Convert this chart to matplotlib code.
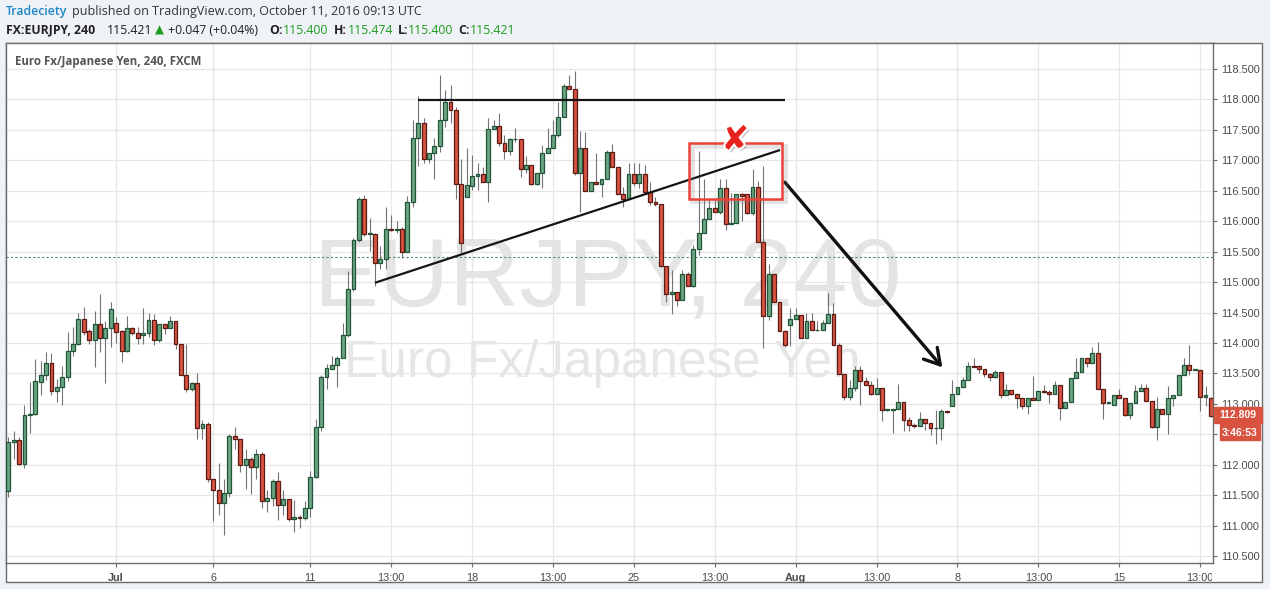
import matplotlib
matplotlib.use('Agg')
import matplotlib.pyplot as plt
import matplotlib.patheffects as pe
from matplotlib.patches import Rectangle
from matplotlib.transforms import Bbox

plt.rcParams['font.family'] = ['Liberation Sans', 'DejaVu Sans']

W, H = 1270, 589

# EURJPY 4h candles, left to right
opens = [111.57, 112.38, 112.40, 112.02, 112.82, 112.83, 113.36, 113.48, 113.68, 113.21,
         113.28, 113.44, 113.87, 113.99, 114.40, 114.19, 114.05, 114.32, 114.09, 114.25,
         114.33, 114.19, 113.87, 114.25, 114.16, 114.14, 114.16, 114.38, 114.05, 114.32,
         114.25, 114.36, 113.99, 113.48, 113.25, 113.35, 112.60, 112.67, 111.76, 111.59,
         111.37, 111.54, 112.48, 112.43, 111.99, 112.10, 111.96, 112.18, 111.40, 111.46,
         111.73, 111.34, 111.44, 111.11, 111.14, 111.12, 111.29, 111.80, 112.62, 113.44,
         113.57, 113.64, 113.75, 114.14, 114.88, 115.69, 116.36, 115.79, 115.79, 115.31,
         115.38, 115.88, 115.85, 115.87, 115.50, 116.31, 117.36, 117.62, 117.03, 117.12,
         117.24, 117.67, 117.95, 117.83, 116.61, 116.39, 116.58, 116.74, 116.78, 116.64,
         117.51, 117.56, 117.28, 117.16, 117.35, 117.35, 116.85, 116.93, 116.61, 116.80,
         117.12, 117.20, 117.42, 117.71, 118.22, 118.17, 116.80, 117.20, 116.50, 116.65,
         116.61, 116.70, 117.13, 116.89, 116.44, 116.37, 116.78, 116.62, 116.78, 116.48,
         116.31, 116.29, 115.27, 114.80, 114.83, 114.70, 115.13, 114.94, 115.55, 115.81,
         116.03, 116.21, 116.15, 116.54, 115.95, 115.97, 116.44, 116.44, 116.13, 116.57,
         115.66, 114.45, 115.14, 114.68, 114.19, 114.29, 114.39, 114.46, 114.09, 114.37,
         114.21, 114.22, 114.33, 114.47, 113.97, 113.49, 113.11, 113.26, 113.55, 113.37,
         113.31, 113.17, 113.26, 112.90, 112.90, 112.91, 113.03, 112.73, 112.66, 112.64,
         112.76, 112.68, 112.60, 112.61, 112.88, 112.97, 113.16, 113.27, 113.39, 113.62,
         113.62, 113.57, 113.49, 113.44, 113.52, 113.14, 113.23, 113.17, 113.10, 112.96,
         113.10, 113.06, 113.21, 113.20, 113.16, 113.31, 112.94, 113.03, 113.43, 113.52,
         113.75, 113.67, 113.83, 113.24, 113.01, 112.98, 113.14, 113.10, 112.82, 113.01,
         113.21, 113.26, 113.05, 112.62, 112.91, 112.84, 113.10, 113.15, 113.48, 113.64,
         113.56, 113.56, 113.11, 113.10]
highs = [112.46, 112.56, 112.46, 112.98, 113.36, 113.73, 113.70, 113.86, 113.84, 113.41,
         113.62, 114.18, 114.27, 114.50, 114.59, 114.23, 114.52, 114.80, 114.37, 114.68,
         114.43, 114.22, 114.44, 114.26, 114.26, 114.57, 114.50, 114.48, 114.32, 114.32,
         114.44, 114.36, 113.99, 113.98, 113.36, 113.50, 112.73, 112.70, 111.76, 112.03,
         111.77, 112.51, 112.62, 112.43, 112.26, 112.13, 112.26, 112.21, 111.59, 111.77,
         111.89, 111.58, 111.44, 111.43, 111.17, 111.41, 111.90, 112.76, 113.48, 113.66,
         113.79, 113.78, 114.33, 115.19, 115.72, 116.40, 116.43, 116.05, 115.80, 115.59,
         116.24, 116.10, 116.00, 115.91, 116.41, 117.67, 118.05, 117.69, 117.12, 117.36,
         118.40, 118.16, 118.24, 117.88, 117.03, 117.20, 117.09, 116.95, 116.89, 117.69,
         117.67, 117.78, 117.42, 117.36, 117.53, 117.35, 117.07, 116.93, 116.80, 117.25,
         117.53, 117.66, 117.95, 118.26, 118.40, 118.47, 117.49, 117.47, 116.65, 117.12,
         116.70, 117.17, 117.27, 116.89, 116.57, 116.96, 116.96, 116.96, 116.92, 116.65,
         116.40, 116.29, 115.27, 115.20, 114.83, 115.20, 115.17, 115.61, 117.16, 116.70,
         116.35, 116.35, 116.70, 116.70, 116.47, 116.44, 116.47, 116.44, 116.85, 116.66,
         116.90, 115.30, 115.14, 114.68, 114.21, 114.57, 114.57, 114.46, 114.50, 114.49,
         114.37, 114.38, 114.82, 114.65, 114.00, 113.49, 113.40, 113.62, 113.62, 113.45,
         113.38, 113.42, 113.26, 112.92, 112.92, 113.32, 113.03, 112.79, 112.68, 112.86,
         112.76, 112.68, 112.90, 112.92, 112.88, 113.39, 113.27, 113.45, 113.69, 113.75,
         113.64, 113.57, 113.51, 113.56, 113.52, 113.32, 113.23, 113.17, 113.10, 113.10,
         113.46, 113.21, 113.31, 113.23, 113.37, 113.31, 113.03, 113.43, 113.76, 113.75,
         113.75, 113.94, 114.02, 113.24, 113.04, 113.14, 113.25, 113.10, 113.01, 113.31,
         113.32, 113.32, 113.05, 113.11, 112.91, 113.29, 113.15, 113.48, 113.76, 113.97,
         113.58, 113.56, 113.30, 113.12]
lows = [111.48, 112.10, 111.99, 111.95, 112.52, 112.82, 113.14, 113.39, 113.14, 113.04,
        112.98, 113.37, 113.78, 113.96, 114.13, 113.98, 113.60, 113.85, 113.34, 113.93,
        114.00, 113.69, 113.85, 114.14, 113.99, 113.99, 114.10, 113.97, 114.01, 114.15,
        114.25, 113.91, 113.47, 113.19, 113.22, 112.42, 112.42, 111.72, 111.07, 111.17,
        110.85, 111.47, 112.26, 111.89, 111.61, 111.52, 111.77, 111.29, 111.22, 111.32,
        111.09, 111.17, 111.07, 110.89, 110.97, 111.09, 111.14, 111.78, 112.56, 113.25,
        113.57, 113.28, 113.75, 114.10, 114.85, 115.66, 115.75, 115.51, 114.94, 115.21,
        115.21, 115.84, 115.80, 115.39, 115.50, 116.24, 116.91, 116.95, 116.95, 116.69,
        117.13, 117.55, 117.61, 116.36, 115.47, 116.39, 116.51, 116.51, 116.64, 116.32,
        117.51, 117.24, 117.02, 117.09, 117.30, 116.72, 116.79, 116.60, 116.60, 116.55,
        117.12, 117.20, 117.39, 117.71, 118.17, 116.76, 116.16, 116.50, 116.50, 116.61,
        116.40, 116.70, 116.89, 116.44, 116.24, 116.36, 116.58, 116.54, 116.44, 116.26,
        116.25, 115.25, 114.68, 114.47, 114.61, 114.70, 114.94, 114.92, 115.44, 115.81,
        116.03, 116.15, 116.12, 115.85, 115.95, 115.97, 116.00, 116.12, 116.10, 115.66,
        113.92, 114.38, 114.68, 114.19, 113.94, 113.95, 114.39, 114.09, 114.09, 114.21,
        114.20, 114.22, 114.33, 113.97, 113.49, 113.07, 113.07, 113.21, 112.98, 113.31,
        113.14, 113.17, 112.72, 112.89, 112.53, 112.91, 112.56, 112.55, 112.60, 112.64,
        112.58, 112.49, 112.35, 112.41, 112.85, 112.97, 113.16, 113.27, 113.39, 113.60,
        113.50, 113.45, 113.37, 113.42, 113.10, 113.14, 113.15, 112.94, 112.92, 112.84,
        113.06, 113.06, 113.18, 113.02, 113.16, 112.74, 112.94, 113.03, 113.43, 113.52,
        113.60, 113.67, 113.24, 112.76, 113.00, 112.98, 113.10, 112.80, 112.75, 113.01,
        113.21, 113.05, 112.61, 112.41, 112.83, 112.50, 112.96, 113.15, 113.48, 113.48,
        113.55, 112.88, 112.97, 112.78]
closes = [112.37, 112.40, 112.02, 112.82, 112.83, 113.37, 113.48, 113.68, 113.21, 113.28,
          113.44, 113.87, 113.99, 114.40, 114.18, 114.05, 114.32, 114.09, 114.25, 114.56,
          114.18, 113.87, 114.25, 114.16, 114.09, 114.16, 114.38, 114.05, 114.32, 114.25,
          114.36, 113.99, 113.48, 113.25, 113.35, 112.60, 112.67, 111.76, 111.59, 111.37,
          111.54, 112.48, 112.43, 111.99, 112.10, 111.96, 112.18, 111.40, 111.46, 111.73,
          111.34, 111.44, 111.11, 111.14, 111.12, 111.29, 111.80, 112.62, 113.44, 113.59,
          113.64, 113.75, 114.14, 114.88, 115.69, 116.36, 115.79, 115.80, 115.31, 115.38,
          115.88, 115.85, 115.87, 115.50, 116.31, 117.36, 117.62, 117.03, 117.12, 117.24,
          117.67, 117.95, 117.83, 116.61, 115.65, 116.60, 116.74, 116.78, 116.64, 117.51,
          117.56, 117.28, 117.16, 117.35, 117.35, 116.85, 116.93, 116.61, 116.80, 117.12,
          117.20, 117.42, 117.71, 118.22, 118.17, 116.80, 117.20, 116.50, 116.65, 116.61,
          116.70, 117.13, 116.89, 116.44, 116.36, 116.78, 116.62, 116.78, 116.48, 116.31,
          116.29, 115.27, 114.80, 114.83, 114.70, 115.13, 114.94, 115.55, 115.81, 116.03,
          116.21, 116.15, 116.54, 115.95, 115.97, 116.44, 116.42, 116.13, 116.57, 115.66,
          114.45, 115.14, 114.68, 114.19, 113.97, 114.39, 114.46, 114.09, 114.37, 114.21,
          114.22, 114.33, 114.47, 113.97, 113.49, 113.11, 113.26, 113.55, 113.37, 113.31,
          113.17, 113.26, 112.90, 112.91, 112.91, 113.03, 112.73, 112.66, 112.64, 112.76,
          112.68, 112.60, 112.61, 112.88, 112.86, 113.16, 113.27, 113.39, 113.62, 113.61,
          113.57, 113.49, 113.44, 113.52, 113.14, 113.23, 113.17, 113.10, 112.96, 113.10,
          113.06, 113.21, 113.20, 113.16, 113.31, 112.94, 113.03, 113.43, 113.52, 113.75,
          113.67, 113.83, 113.24, 113.01, 113.04, 113.14, 113.10, 112.82, 113.01, 113.21,
          113.26, 113.05, 112.62, 112.91, 112.84, 113.10, 113.15, 113.48, 113.64, 113.56,
          113.57, 113.11, 113.15, 112.81]

tick_pos = [20, 38, 56, 71, 86, 101, 116, 131, 146, 161, 176, 191, 206, 221]
tick_lab = ['Jul', '6', '11', '13:00', '18', '13:00', '25', '13:00',
            'Aug', '13:00', '8', '13:00', '15', '13:00']
price_ticks = [110.5, 111.0, 111.5, 112.0, 112.5, 113.0, 113.5, 114.0, 114.5,
               115.0, 115.5, 116.0, 116.5, 117.0, 117.5, 118.0, 118.5]
hidden_tick = 112.5   # covered by the countdown label
last_price = 112.809
quote_line = 115.421

# hand drawn annotations (bar index, price)
resistance = ([76.0, 144.0], [117.99, 117.99])
trendline = ([68.0, 143.1], [114.99, 117.17])
arrow_from, arrow_to = (144.0, 116.64), (173.2, 113.60)
box = (126.2, 116.37, 17.3, 0.91)
cross_at = (134.8, 117.33)

UP, DOWN = '#6ba583', '#d75442'
UP_EDGE, DOWN_EDGE = '#225437', '#5b1a13'
BORDER = '#6b6b6b'


def fx(px):
    return px / W


def fy(py):
    return 1 - py / H


fig = plt.figure(figsize=(12.7, 5.89), dpi=100, facecolor='#eff2f6')

# white chart panel
fig.patches.append(Rectangle((fx(6), fy(582)), fx(1262) - fx(6), fy(43) - fy(582),
                             transform=fig.transFigure, facecolor='white',
                             edgecolor=BORDER, lw=1, zorder=-1))

ax = fig.add_axes([fx(6), fy(563), fx(1213) - fx(6), fy(43) - fy(563)])
ax.set_facecolor('white')
for s in ax.spines.values():
    s.set_color(BORDER)
    s.set_linewidth(1)

# candles
x = list(range(len(opens)))
ax.vlines(x, lows, highs, color='#737375', lw=0.8, zorder=2)
bottoms = [min(o, c) for o, c in zip(opens, closes)]
heights = [abs(c - o) for o, c in zip(opens, closes)]
fills = [UP if c >= o else DOWN for o, c in zip(opens, closes)]
edges = [UP_EDGE if c >= o else DOWN_EDGE for o, c in zip(opens, closes)]
ax.bar(x, heights, bottom=bottoms, width=0.72, color=fills, edgecolor=edges,
       linewidth=0.9, zorder=3)

ax.set_xlim(-0.43, 223.38)
ax.set_ylim(110.388, 118.927)

# watermark
ax.text(fx(314), fy(305), 'EURJPY, 240', transform=fig.transFigure, fontsize=70,
        color='#e4e4e4', ha='left', va='baseline', zorder=0.2)
ax.text(fx(344), fy(377), 'Euro Fx/Japanese Yen', transform=fig.transFigure,
        fontsize=37, color='#e6e6e6', ha='left', va='baseline', zorder=0.2)

ax.axhline(quote_line, color='#4f8a68', lw=0.8, ls=(0, (2, 2)), zorder=1)

# axes, ticks and grid
ax.set_axisbelow(True)
ax.grid(True, color='#e6e6e6', lw=0.9)
ax.yaxis.tick_right()
ax.set_yticks(price_ticks)
ax.set_yticklabels(['' if p == hidden_tick else '%.3f' % p for p in price_ticks])
ax.set_xticks(tick_pos)
ax.set_xticklabels(tick_lab)
ax.tick_params(axis='both', direction='out', length=3, width=0.8, color=BORDER,
               labelcolor='#4a4a4a', labelsize=7.8)
ax.tick_params(axis='y', pad=3)
ax.tick_params(axis='x', pad=4)
for lbl in ax.get_xticklabels():
    if lbl.get_text() in ('Jul', 'Aug'):
        lbl.set_fontweight('bold')
last_lbl = ax.get_xticklabels()[-1]
last_lbl.set_clip_on(True)
last_lbl.set_clip_box(Bbox.from_extents(0, 0, 1212, H))

# drawn lines
ax.plot(*resistance, color='#151515', lw=1.6, zorder=4, solid_capstyle='butt')
ax.plot(*trendline, color='#151515', lw=1.6, zorder=4, solid_capstyle='butt')
ax.annotate('', xy=arrow_to, xytext=arrow_from, zorder=4,
            arrowprops=dict(arrowstyle='->,head_length=1.1,head_width=0.65',
                            color='#111111', lw=2.4, shrinkA=0, shrinkB=0))

ax.add_patch(Rectangle(box[:2], box[2], box[3], fill=False, edgecolor='#ec4238',
                       lw=1.8, zorder=5,
                       path_effects=[pe.SimpleLineShadow(offset=(2, -2), shadow_color='#777777',
                                                         alpha=0.2, linewidth=3.5),
                                     pe.Normal()]))
ax.text(cross_at[0], cross_at[1], '\u2718', fontsize=24, color='#e8231f', ha='center',
        va='center', family='DejaVu Sans', zorder=6,
        path_effects=[pe.SimplePatchShadow(offset=(2, -2), shadow_rgbFace='#777777', alpha=0.35),
                      pe.Stroke(linewidth=3, foreground='white'), pe.Normal()])

# last price labels on the price axis
fig.patches.append(Rectangle((fx(1214), fy(423)), fx(1262) - fx(1214), fy(407) - fy(423),
                             transform=fig.transFigure, color='#d9513f', zorder=5))
fig.patches.append(Rectangle((fx(1220), fy(440)), fx(1260) - fx(1220), fy(424) - fy(440),
                             transform=fig.transFigure, color='#d9513f', zorder=5))
fig.text(fx(1238), fy(415), '%.3f' % last_price, color='white', fontsize=7.5, ha='center',
         va='center', fontweight='bold', zorder=6)
fig.text(fx(1240), fy(432.5), '3:46:53', color='white', fontsize=7.5, ha='center',
         va='center', fontweight='bold', zorder=6)

# header
HF = ['Open Sans', 'DejaVu Sans']
fig.text(fx(6), fy(12), 'Tradeciety', color='#1c86c8', fontsize=8.8, family=HF,
         fontweight='semibold', va='center')
fig.text(fx(72), fy(12), 'published on TradingView.com, October 11, 2016 09:13 UTC',
         color='#333333', fontsize=9.0, family=HF, va='center')
green = '#1f9d1f'
pieces = [(6.5, 'FX:EURJPY, 240', '#222222', 'bold'),
          (106.5, '115.421', '#222222', 'normal'),
          (168, '+0.047 (+0.04%)', '#222222', 'normal'),
          (269, 'O:', '#222222', 'bold'), (283, '115.400', green, 'normal'),
          (334, 'H:', '#222222', 'bold'), (348, '115.474', green, 'normal'),
          (398, 'L:', '#222222', 'bold'), (408, '115.400', green, 'normal'),
          (458, 'C:', '#222222', 'bold'), (470, '115.421', green, 'normal')]
for px, s, c, w in pieces:
    fig.text(fx(px), fy(30), s, color=c, fontsize=8.8, family=HF, fontweight=w, va='center')
fig.text(fx(155), fy(30), '\u25b2', color=green, fontsize=8.5, family='DejaVu Sans',
         va='center')
fig.text(fx(15), fy(61), 'Euro Fx/Japanese Yen, 240, FXCM', color='#555555', fontsize=8.3,
         family=HF, fontweight='bold', va='center')

fig.savefig('out.png', dpi=100, facecolor=fig.get_facecolor())
